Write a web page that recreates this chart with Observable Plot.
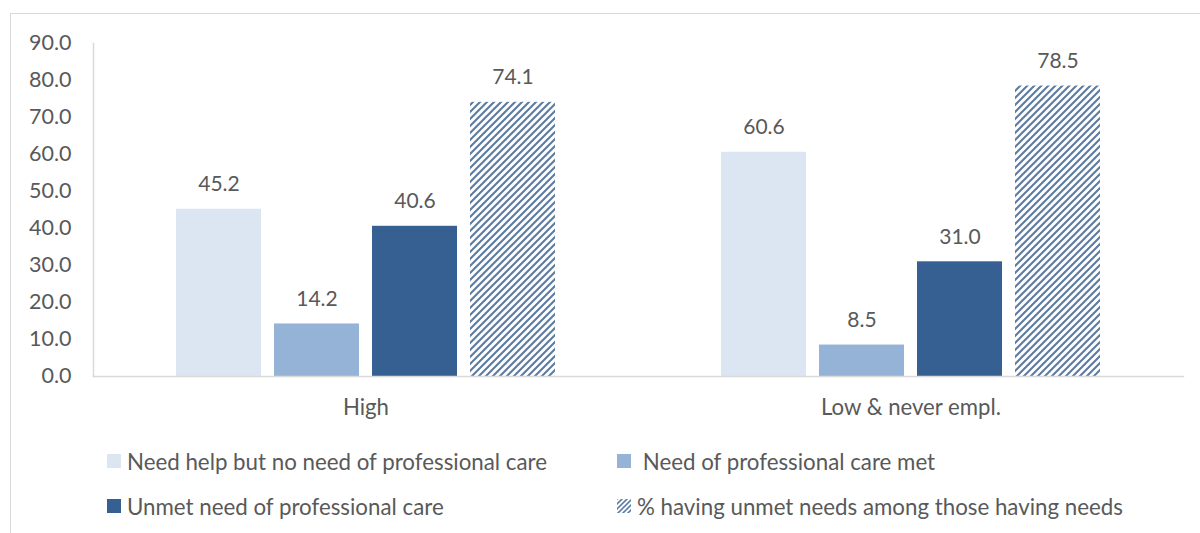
<!DOCTYPE html>
<html>
<head>
<meta charset="utf-8">
<script src="https://cdn.jsdelivr.net/npm/d3@7"></script>
<script src="https://cdn.jsdelivr.net/npm/@observablehq/plot@0.6"></script>
<style>
  html, body { margin: 0; padding: 0; background: #fff; }
  #page { position: relative; width: 1200px; height: 533px; overflow: hidden; font-family: Lato, "Open Sans", sans-serif; }
  #box { position: absolute; left: 10px; top: 13px; width: 1300px; height: 700px; border-left: 1.5px solid #d9d9d9; border-top: 1.5px solid #d9d9d9; }
  #chart { position: absolute; left: 0; top: 0; }
  #legend { position: absolute; left: 107px; top: 446px; display: grid; grid-template-columns: 510px auto; grid-auto-rows: 45px; color: #595959; font-size: 22.3px; }
  .item { display: flex; align-items: center; height: 30px; white-space: pre; }
  .item svg { margin-right: 6px; flex: none; }
</style>
</head>
<body>
<div id="page">
  <div id="box"></div>
  <div id="chart"></div>
  <div id="legend"></div>
</div>
<script>
const categories = ["High", "Low & never empl."];
const seriesNames = [
  "Need help but no need of professional care",
  "Need of professional care met",
  "Unmet need of professional care",
  "% having unmet needs among those having needs"
];
const legendLabels = [
  "Need help but no need of professional care",
  " Need of professional care met",
  "Unmet need of professional care",
  "% having unmet needs among those having needs"
];
const highValues = [45.2, 14.2, 40.6, 74.1];
const lowValues = [60.6, 8.5, 31.0, 78.5];
const yTicks = [0, 10, 20, 30, 40, 50, 60, 70, 80, 90];
const seriesColors = ["#dce6f2", "#95b3d7", "#376092", "url(#hatch)"];

const rows = [];
categories.forEach((c, ci) => {
  const vals = ci === 0 ? highValues : lowValues;
  seriesNames.forEach((s, si) => rows.push({cat: c, series: s, value: vals[si]}));
});

const textColor = "#595959";
const chart = Plot.plot({
  width: 1200,
  height: 430,
  marginLeft: 92,
  marginRight: 16.5,
  marginTop: 43,
  marginBottom: 54,
  style: {fontFamily: "Lato, 'Open Sans', sans-serif", fontSize: "22.2px", color: textColor, background: "transparent", overflow: "visible"},
  fx: {domain: categories, paddingInner: 0, paddingOuter: 0, axis: "bottom", tickSize: 0, tickPadding: 23, label: null},
  x: {domain: seriesNames, paddingInner: 0.132, paddingOuter: 0.834, axis: null},
  y: {domain: [0, 90], axis: null},
  color: {domain: seriesNames, range: seriesColors},
  marks: [
    Plot.barY(rows, {fx: "cat", x: "series", y: "value", fill: "series"}),
    Plot.text(rows, {fx: "cat", x: "series", y: "value", text: d => d.value.toFixed(1), dy: -25, fill: textColor, fontSize: 21}),
    Plot.frame({anchor: "bottom", facet: "super", stroke: "#d9d9d9", strokeWidth: 1.5}),
    Plot.frame({anchor: "left", facet: "super", stroke: "#d9d9d9", strokeWidth: 1.5}),
    Plot.axisY({ticks: yTicks, tickSize: 0, tickPadding: 22, tickFormat: d => d.toFixed(1), fill: textColor, fontSize: 21.5, label: null})
  ]
});

const defs = `<defs><pattern id="hatch" patternUnits="userSpaceOnUse" width="7" height="7">
  <path d="M-1,1 l2,-2 M0,7 l7,-7 M6,8 l2,-2" stroke="#3f648f" stroke-width="2.1" stroke-opacity="0.85"/>
</pattern></defs>`;
d3.select(chart).insert("g", ":first-child").html(defs);
document.getElementById("chart").appendChild(chart);

const order = [0, 1, 2, 3];
const legend = d3.select("#legend");
order.forEach(i => {
  const item = legend.append("div").attr("class", "item");
  const sw = item.append("svg").attr("width", 14).attr("height", 14);
  if (i === 3) {
    sw.append("defs").html(`<pattern id="hatchL" patternUnits="userSpaceOnUse" width="5" height="5"><path d="M-1,1 l2,-2 M0,5 l5,-5 M4,6 l2,-2" stroke="#376092" stroke-width="1.6" stroke-opacity="0.8"/></pattern>`);
    sw.append("rect").attr("width", 14).attr("height", 14).attr("fill", "url(#hatchL)");
  } else {
    sw.append("rect").attr("width", 14).attr("height", 14).attr("fill", seriesColors[i]);
  }
  item.append("span").text(legendLabels[i]);
});
</script>
</body>
</html>
